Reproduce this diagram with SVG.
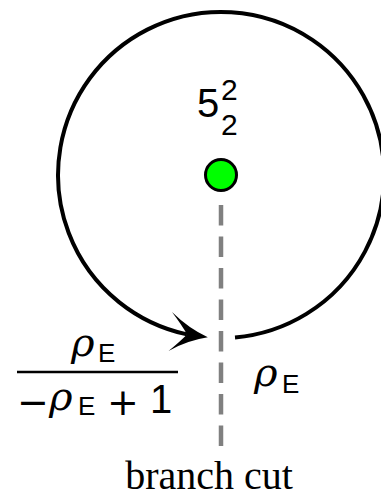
<svg xmlns="http://www.w3.org/2000/svg" width="381" height="499" viewBox="0 0 381 499">
<style>
.sans{font-family:"Liberation Sans",Arial,sans-serif;fill:#000}
.rho{font-family:"DejaVu Serif",serif;font-style:italic;font-size:40px;fill:#000}
.sub{font-family:"Liberation Sans",Arial,sans-serif;font-size:26px;fill:#000}
.op{font-family:"DejaVu Sans",sans-serif;font-size:38px;fill:#000}
.serif{font-family:"Liberation Serif","Times New Roman",serif;fill:#000}
</style>
<defs>
<marker id="arrow" markerUnits="userSpaceOnUse" markerWidth="90" markerHeight="90" viewBox="-50 -45 90 90" refX="-21" refY="0" orient="8" overflow="visible">
<path d="M0,0 Q-20,-6 -39,-20 Q-27,-8 -21,0 Q-27,8 -37,19 Q-20,6 0,0 Z" fill="#000"/>
</marker>
</defs>
<rect width="381" height="499" fill="#fff"/>
<g id="connectors">
<path id="loop" d="M235,337.4 A163,163 0 1 0 187,334.4" fill="none" stroke="#000" stroke-width="4" marker-end="url(#arrow)"/>
<line id="branch-cut-line" x1="221" y1="205" x2="221" y2="446" stroke="#808080" stroke-width="4.5" stroke-dasharray="20.5 11"/>
</g>
<g id="node-point">
<circle cx="221" cy="175" r="15.5" fill="#00ff00" stroke="#000" stroke-width="3"/>
<text class="sans" x="197" y="117" font-size="40">5</text>
<text class="sans" x="221" y="100" font-size="30">2</text>
<text class="sans" x="221" y="135" font-size="30">2</text>
</g>
<g id="label-left">
<text class="rho" x="71" y="356">ρ</text>
<text class="sub" x="98" y="362">E</text>
<line x1="17" y1="372" x2="178" y2="372" stroke="#000" stroke-width="2.3"/>
<text class="op" x="17" y="415">−</text>
<text class="rho" x="49" y="410">ρ</text>
<text class="sub" x="78" y="415">E</text>
<text class="op" x="107" y="415">+</text>
<text class="sans" x="150" y="413" font-size="40">1</text>
</g>
<g id="label-right">
<text class="rho" x="254" y="386">ρ</text>
<text class="sub" x="282" y="393">E</text>
</g>
<g id="label-branch-cut">
<text class="serif" x="209" y="489" font-size="40" text-anchor="middle">branch cut</text>
</g>
</svg>
